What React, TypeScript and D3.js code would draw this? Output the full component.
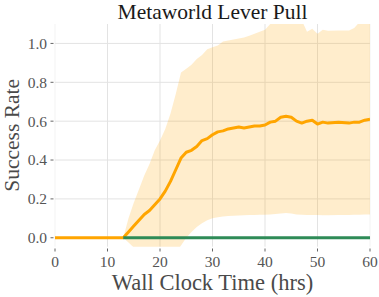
import { useEffect, useRef } from 'react';
import * as d3 from 'd3';

// Wall clock time (hrs) sample points
const hours = [0, 13, 14, 15, 16, 17, 18, 19, 20, 21, 22, 23, 24, 25, 26, 27, 28, 29, 30, 31, 32, 33, 34, 35, 36, 37, 38, 39, 40, 41, 42, 43, 44, 45, 46, 47, 48, 49, 50, 51, 52, 54, 56, 57, 58, 59, 60];

// Mean success rate (orange run)
const meanRate = [0, 0, 0.03, 0.06, 0.09, 0.12, 0.14, 0.17, 0.2, 0.24, 0.29, 0.35, 0.41, 0.44, 0.45, 0.47, 0.5, 0.51, 0.53, 0.545, 0.55, 0.56, 0.565, 0.57, 0.565, 0.57, 0.575, 0.575, 0.58, 0.595, 0.6, 0.62, 0.625, 0.62, 0.6, 0.59, 0.6, 0.605, 0.585, 0.595, 0.59, 0.595, 0.59, 0.595, 0.595, 0.605, 0.61];

// Shaded band bounds
const upperRate = [0, 0, 0.1, 0.18, 0.25, 0.32, 0.38, 0.45, 0.5, 0.56, 0.64, 0.74, 0.85, 0.87, 0.89, 0.92, 0.94, 0.97, 0.98, 0.99, 1.01, 1.015, 1.02, 1.025, 1.03, 1.04, 1.05, 1.06, 1.07, 1.1, 1.12, 1.12, 1.12, 1.12, 1.12, 1.12, 1.06, 1.075, 1.05, 1.07, 1.065, 1.067, 1.067, 1.08, 1.11, 1.12, 1.12];
const lowerRate = [0, 0, -0.025, -0.05, -0.08, -0.08, -0.08, -0.08, -0.08, -0.08, -0.08, -0.08, -0.04, 0, 0.03, 0.055, 0.075, 0.09, 0.1, 0.105, 0.11, 0.112, 0.113, 0.115, 0.116, 0.117, 0.117, 0.118, 0.118, 0.12, 0.122, 0.125, 0.127, 0.125, 0.12, 0.118, 0.117, 0.117, 0.117, 0.116, 0.116, 0.117, 0.117, 0.118, 0.119, 0.12, 0.12];

// Flat green run (starts at 13 hrs)
const greenHours = [13, 60];
const greenRate = [0, 0];

const xTicks = [0, 10, 20, 30, 40, 50, 60];
const yTicks = [0, 0.2, 0.4, 0.6, 0.8, 1.0];

export default function App() {
  const svgRef = useRef<SVGSVGElement>(null);

  useEffect(() => {
    if (!svgRef.current) return;
    const svg = d3.select(svgRef.current);
    svg.selectAll('*').remove();

    const left = 55, right = 370, top = 24, bottom = 246.7;
    const x = d3.scaleLinear().domain([0, 60]).range([left, right]);
    const y = d3.scaleLinear().domain([-0.046, 1.1]).range([bottom, top]);
    const font = '"Liberation Serif", "Times New Roman", serif';

    svg.append('defs').append('clipPath').attr('id', 'plot-clip')
      .append('rect')
      .attr('x', left).attr('y', top)
      .attr('width', right - left).attr('height', bottom - top);

    // grid
    const grid = svg.append('g');
    grid.selectAll('.vg').data(xTicks).enter().append('line')
      .attr('x1', d => x(d)).attr('x2', d => x(d))
      .attr('y1', top).attr('y2', bottom)
      .attr('stroke', d => (d === 0 || d === 60) ? '#f3f3f3' : '#e3e3e3')
      .attr('stroke-width', 1);
    grid.selectAll('.hg').data(yTicks).enter().append('line')
      .attr('x1', left).attr('x2', right)
      .attr('y1', d => y(d)).attr('y2', d => y(d))
      .attr('stroke', '#e3e3e3')
      .attr('stroke-width', 1);

    const plot = svg.append('g').attr('clip-path', 'url(#plot-clip)');

    const band = d3.area<number>()
      .x((d, i) => x(hours[i]))
      .y0((d, i) => y(lowerRate[i]))
      .y1((d, i) => y(upperRate[i]));
    plot.append('path')
      .attr('d', band(hours))
      .attr('fill', 'orange')
      .attr('fill-opacity', 0.2);

    const line = d3.line<number>()
      .x((d, i) => x(hours[i]))
      .y(d => y(d));
    plot.append('path')
      .attr('d', line(meanRate))
      .attr('fill', 'none')
      .attr('stroke', '#ffa500')
      .attr('stroke-width', 3)
      .attr('stroke-linejoin', 'round');

    const greenLine = d3.line<number>()
      .x((d, i) => x(greenHours[i]))
      .y(d => y(d));
    plot.append('path')
      .attr('d', greenLine(greenRate))
      .attr('fill', 'none')
      .attr('stroke', '#2e8b57')
      .attr('stroke-width', 3);

    // y axis ticks
    const yAxis = svg.append('g');
    yAxis.selectAll('line').data(yTicks).enter().append('line')
      .attr('x1', 50.5).attr('x2', 53.5)
      .attr('y1', d => y(d)).attr('y2', d => y(d))
      .attr('stroke', '#666').attr('stroke-width', 1);
    yAxis.selectAll('text').data(yTicks).enter().append('text')
      .attr('x', 47).attr('y', d => y(d))
      .attr('dy', '0.35em')
      .attr('text-anchor', 'end')
      .attr('font-family', font)
      .attr('font-size', 15.5)
      .attr('fill', '#555')
      .text(d => d.toFixed(1));

    // x axis ticks
    const xAxis = svg.append('g');
    xAxis.selectAll('line').data(xTicks).enter().append('line')
      .attr('x1', d => x(d)).attr('x2', d => x(d))
      .attr('y1', 248.5).attr('y2', 251.5)
      .attr('stroke', '#666').attr('stroke-width', 1);
    xAxis.selectAll('text').data(xTicks).enter().append('text')
      .attr('x', d => x(d)).attr('y', 267)
      .attr('text-anchor', 'middle')
      .attr('font-family', font)
      .attr('font-size', 15.5)
      .attr('fill', '#555')
      .text(d => String(d));

    svg.append('text')
      .attr('x', (left + right) / 2).attr('y', 290)
      .attr('text-anchor', 'middle')
      .attr('font-family', font)
      .attr('font-size', 22.5)
      .attr('fill', '#4a4a4a')
      .text('Wall Clock Time (hrs)');

    svg.append('text')
      .attr('transform', `translate(19, ${(top + bottom) / 2}) rotate(-90)`)
      .attr('text-anchor', 'middle')
      .attr('font-family', font)
      .attr('font-size', 21.5)
      .attr('fill', '#4a4a4a')
      .text('Success Rate');

    svg.append('text')
      .attr('x', (left + right) / 2).attr('y', 19)
      .attr('text-anchor', 'middle')
      .attr('font-family', font)
      .attr('font-size', 21.5)
      .attr('fill', '#1a1a1a')
      .text('Metaworld Lever Pull');
  }, []);

  return (
    <svg ref={svgRef} width={379} height={297} viewBox="0 0 379 297"
      style={{ position: 'absolute', left: 0, top: 0, display: 'block', background: '#fff' }} />
  );
}
